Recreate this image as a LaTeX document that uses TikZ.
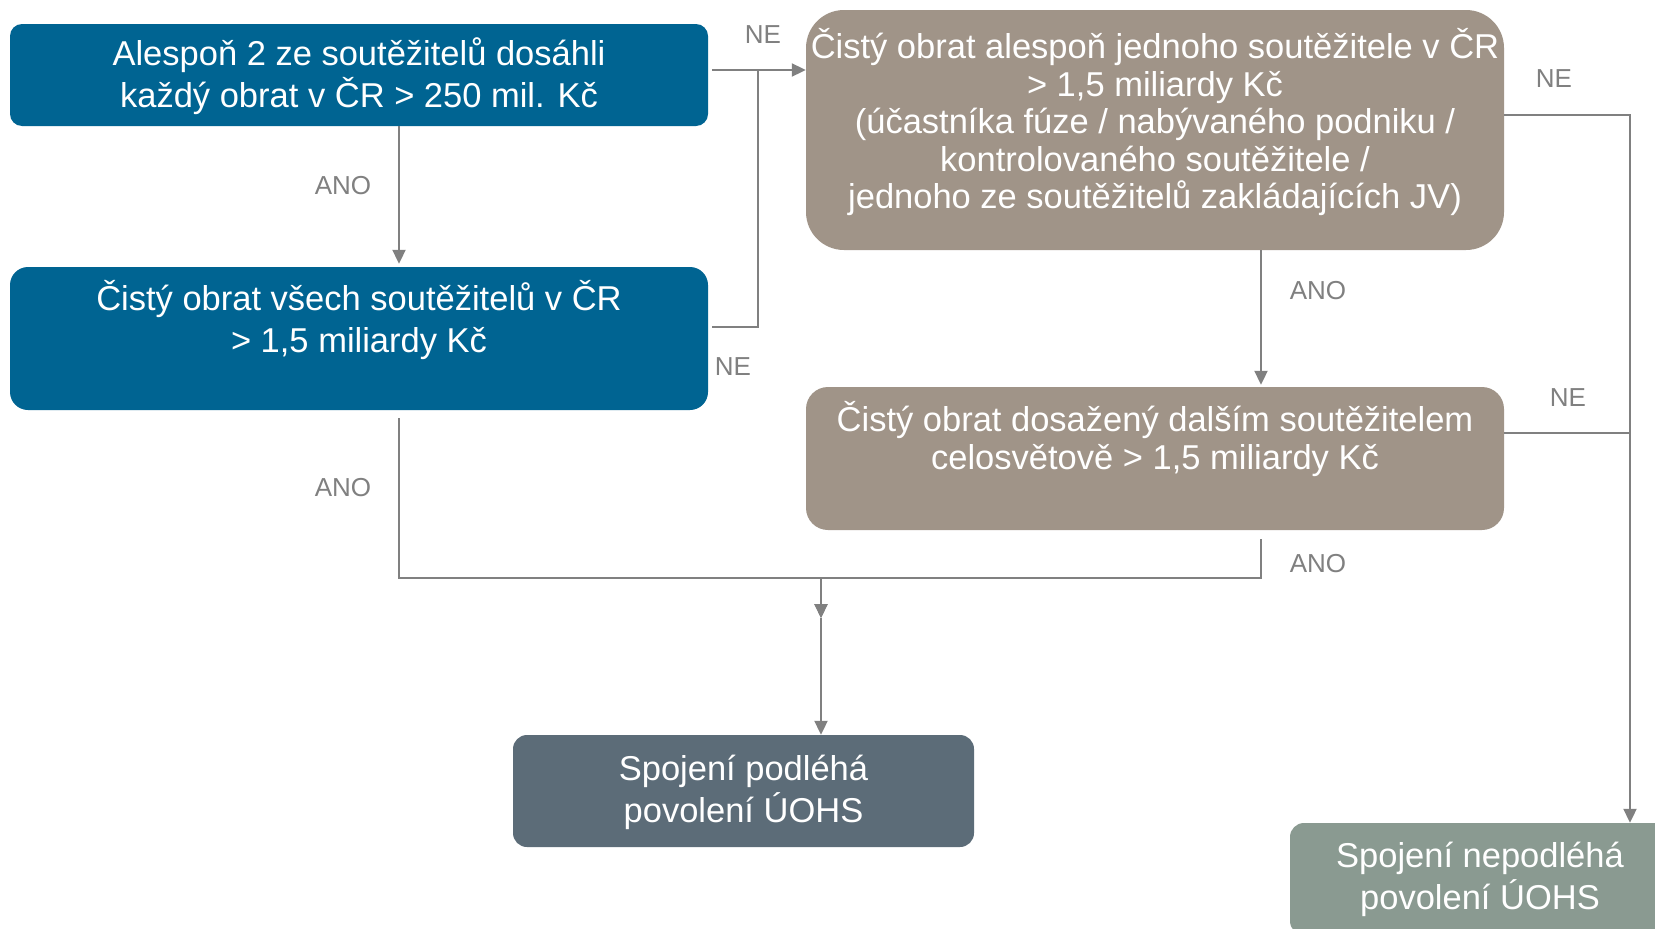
\documentclass[tikz,border=0pt]{standalone}
\usepackage{fontspec}
\setmainfont{Liberation Sans}
\usetikzlibrary{arrows.meta,calc}
\definecolor{cblue}{RGB}{0,100,146}
\definecolor{cbrown}{RGB}{160,148,136}
\definecolor{cslate}{RGB}{92,108,120}
\definecolor{cgreen}{RGB}{138,154,145}
\definecolor{cline}{RGB}{128,128,128}
\begin{document}
\begin{tikzpicture}[x=1pt,y=-1pt,
  box/.style n args={3}{rectangle, draw=none, inner sep=0pt, minimum width=#1, minimum height=#2, rounded corners=#3},
  bigtext/.style={text=white, align=center, inner sep=0pt, font=\fontsize{34.5}{42}\selectfont},
  tighttext/.style={text=white, align=center, inner sep=0pt, font=\fontsize{34.5}{37.5}\selectfont},
  lbl/.style={text=cline, inner sep=0pt, font=\fontsize{26}{30}\selectfont},
  conn/.style={draw=cline, line width=2pt},
  arr/.style={-{Triangle[width=13pt,length=14pt]}}
]
\clip (0,0) rectangle (1655,929);
\fill[white] (0,0) rectangle (1655,929);

% boxes
\node[box={698pt}{102pt}{12pt}, fill=cblue] (A) at (359,75) {};
\node[box={698pt}{143pt}{18pt}, fill=cblue] (B) at (359,338.5) {};
\node[box={698pt}{240pt}{38pt}, fill=cbrown] (C) at (1155,130) {};
\node[box={698pt}{143pt}{22pt}, fill=cbrown] (D) at (1155,458.5) {};
\node[box={461pt}{112pt}{14pt}, fill=cslate] (E) at (743.5,791) {};
\node[box={380pt}{112pt}{14pt}, fill=cgreen] (F) at (1480,879) {};

% texts
\node[bigtext] (At) at (359,76) {Alespoň 2 ze soutěžitelů dosáhli\\ každý obrat v ČR > 250 mil. Kč};
\node[bigtext] (Bt) at (359,320) {Čistý obrat všech soutěžitelů v ČR\\> 1,5 miliardy Kč};
\node[tighttext] (Ct) at (1155,122) {Čistý obrat alespoň jednoho soutěžitele v ČR\\> 1,5 miliardy Kč\\(účastníka fúze / nabývaného podniku /\\kontrolovaného soutěžitele /\\jednoho ze soutěžitelů zakládajících JV)};
\node[tighttext] (Dt) at (1155,439) {Čistý obrat dosažený dalším soutěžitelem\\celosvětově > 1,5 miliardy Kč};
\node[bigtext] (Et) at (743.5,792) {Spojení podléhá\\povolení ÚOHS};
\node[bigtext] (Ft) at (1480,879) {Spojení nepodléhá\\povolení ÚOHS};

% coordinates
\coordinate (a1) at ($(A.east)+(4,-5)$);
\coordinate (nj) at (758,70);
\coordinate (j) at (821,578);
\coordinate (m) at (821,618);
\coordinate (bs) at ($(B.south)+(40,8)$);
\coordinate (ds) at ($(D.south)+(106,9)$);
\coordinate (fr) at ($(F.north)+(150,0)$);

% connectors
\draw[conn,arr] ($(A.south)+(40,0)$) -- ($(B.north)+(40,-3)$);
\draw[conn,arr] (a1) -- (a1 -| C.west);
\draw[conn] ($(B.east)+(4,-12)$) -| (nj);
\draw[conn,arr] ($(C.south)+(106,0)$) -- ($(D.north)+(106,-2)$);
\draw[conn,arr] ($(C.east)+(0,-15)$) -| (fr);
\draw[conn] ($(D.east)+(0,-26)$) -- ++(126,0);
\draw[conn,arr] (bs) |- (j) -- (m);
\draw[conn,arr] (ds) |- (j) -- (m);
\draw[conn,arr] (m) -- (m |- E.north);

% labels
\node[lbl] (l1) at (763,35) {NE};
\node[lbl] (l2) at (733,367) {NE};
\node[lbl] (l3) at (343,186) {ANO};
\node[lbl] (l4) at (343,488) {ANO};
\node[lbl] (l5) at (1318,291) {ANO};
\node[lbl] (l6) at (1318,564) {ANO};
\node[lbl] (l7) at (1554,79) {NE};
\node[lbl] (l8) at (1568,398) {NE};
\end{tikzpicture}
\end{document}
